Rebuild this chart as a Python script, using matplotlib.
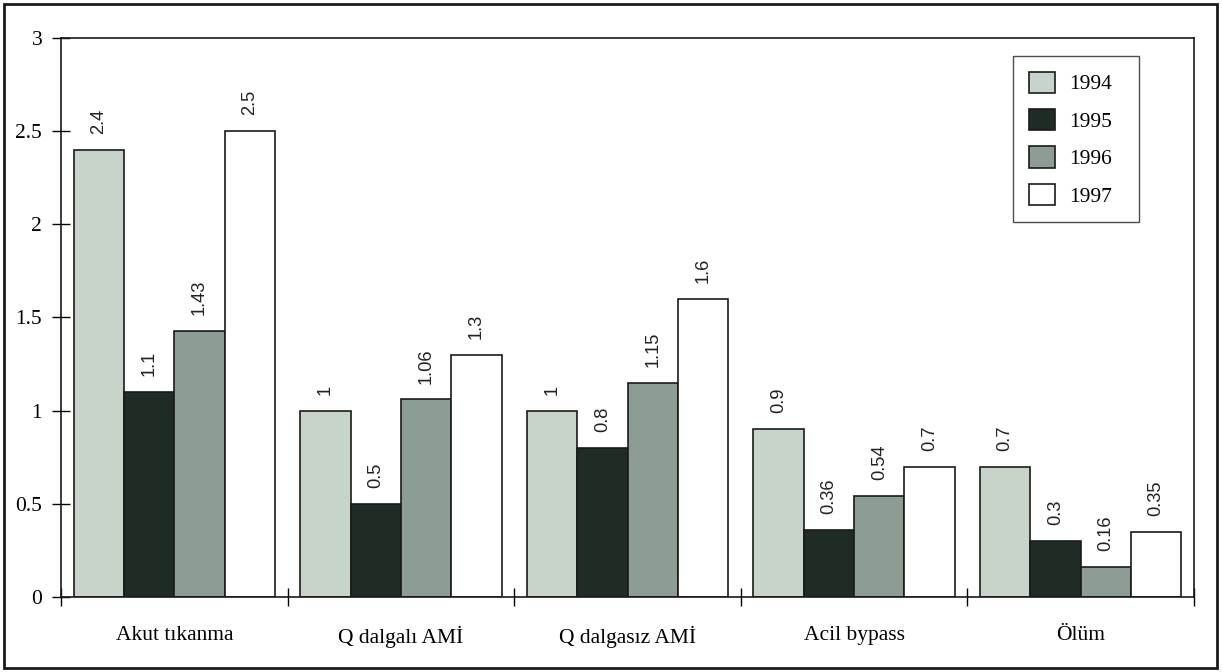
import matplotlib.pyplot as plt
import numpy as np
from matplotlib.patches import Rectangle

categories = ["Akut tıkanma", "Q dalgalı AMİ", "Q dalgasız AMİ", "Acil bypass", "Ölüm"]
years = ["1994", "1995", "1996", "1997"]
v1994 = [2.4, 1.0, 1.0, 0.9, 0.7]
v1995 = [1.1, 0.5, 0.8, 0.36, 0.3]
v1996 = [1.43, 1.06, 1.15, 0.54, 0.16]
v1997 = [2.5, 1.3, 1.6, 0.7, 0.35]

series = [v1994, v1995, v1996, v1997]
colors = ["#c6d4ca", "#1f2b25", "#8d9d93", "#ffffff"]

serif = ["Liberation Serif", "DejaVu Serif"]
sans = ["Liberation Sans", "DejaVu Sans"]

fig = plt.figure(figsize=(12.22, 6.72), dpi=100)
ax = fig.add_axes([61 / 1222, 1 - 597 / 672, (1194 - 61) / 1222, (597 - 38) / 672])

x = np.arange(len(categories))
width = 0.222
offsets = (np.arange(len(years)) - 1.5) * width

for vals, col, yr, off in zip(series, colors, years, offsets):
    bars = ax.bar(x + off, vals, width, color=col, edgecolor="#1a1a1a",
                  linewidth=1.2, label=yr)
    for b, v in zip(bars, vals):
        ax.annotate(f"{v:g}", (b.get_x() + b.get_width() / 2, v),
                    xytext=(0, 11.5), textcoords="offset points",
                    rotation=90, ha="center", va="bottom",
                    fontsize=13.2, family=sans, color="#222222")

ax.set_xlim(-0.5, len(categories) - 0.5)
ax.set_ylim(0, 3)
ax.set_yticks([0, 0.5, 1, 1.5, 2, 2.5, 3])
ax.set_yticklabels(["0", "0.5", "1", "1.5", "2", "2.5", "3"], family=serif, fontsize=15.5)

# group boundaries get the tick marks, category names sit between them
ax.set_xticks(np.arange(len(categories) + 1) - 0.5)
ax.set_xticklabels([])
ax.set_xticks(x, minor=True)
ax.set_xticklabels(categories, minor=True, family=serif, fontsize=15.5)
ax.tick_params(axis="x", which="major", direction="inout", length=12.5, width=1)
ax.tick_params(axis="x", which="minor", length=0, pad=21)
ax.tick_params(axis="y", direction="inout", length=13, width=1, pad=7)

for s in ax.spines.values():
    s.set_linewidth(1.2)
    s.set_color("#1a1a1a")

leg_x0, leg_x1 = 1013 / 1222, 1139 / 1222
leg = ax.legend(loc="upper left",
                bbox_to_anchor=(leg_x0, 1 - 223 / 672, leg_x1 - leg_x0, 167 / 672),
                bbox_transform=fig.transFigure, mode="expand",
                prop={"family": serif, "size": 15.5},
                frameon=True, fancybox=False, edgecolor="#222222",
                handlelength=1.25, handleheight=1.15, labelspacing=0.67,
                handletextpad=0.65, borderpad=0.72, borderaxespad=0)
leg.get_frame().set_linewidth(1.0)

fig.patches.append(Rectangle((4 / 1222, 4 / 672), 1213 / 1222, 664 / 672,
                             transform=fig.transFigure, fill=False,
                             edgecolor="#1a1a1a", linewidth=2))

fig.savefig("out.png", dpi=100)
